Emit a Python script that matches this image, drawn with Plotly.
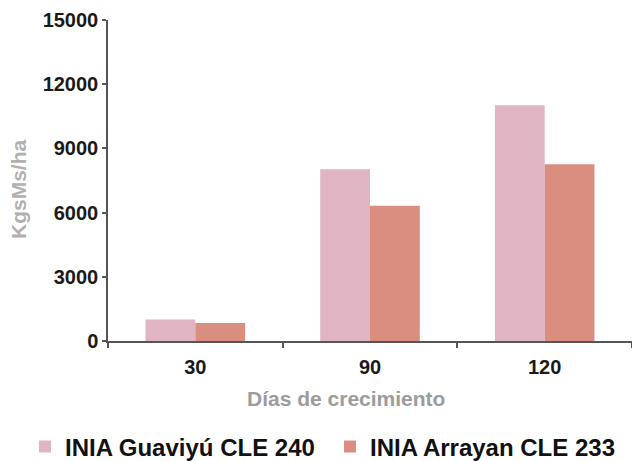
import plotly.graph_objects as go

# Days of regrowth (categories) and dry matter yield per variety
dias = ["30", "90", "120"]
guaviyu = [1000, 8020, 11020]
arrayan = [840, 6320, 8260]

series_names = ["INIA Guaviyú CLE 240", "INIA Arrayan CLE 233"]
y_ticks = [0, 3000, 6000, 9000, 12000, 15000]
y_tick_text = ["0", "3000", "6000", "9000", "12000", "15000"]

PINK = "#E1B4C4"
SALMON = "#D98E80"
FONT = "Liberation Sans"

fig = go.Figure()
fig.add_trace(go.Bar(x=dias, y=guaviyu, name=series_names[0],
                     marker=dict(color=PINK, line=dict(width=0))))
fig.add_trace(go.Bar(x=dias, y=arrayan, name=series_names[1],
                     marker=dict(color=SALMON, line=dict(width=0))))

fig.update_layout(
    width=632, height=461,
    margin=dict(l=108, r=0, t=20, b=120, autoexpand=False),
    paper_bgcolor="white", plot_bgcolor="white",
    barmode="group", bargap=0.43, bargroupgap=0,
    font=dict(family=FONT, color="#1a1a1a"),
    showlegend=True,
    legend=dict(orientation="h", x=-0.1584, xanchor="left",
                y=-0.33, yanchor="middle",
                font=dict(size=24, color="#111111", family=FONT, weight="bold"),
                itemwidth=30, entrywidth=260, entrywidthmode="pixels",
                traceorder="normal"),
    xaxis=dict(
        type="category",
        showline=True, linecolor="#555555", linewidth=1.5,
        ticks="outside", tickson="boundaries", ticklen=5,
        tickcolor="#555555", tickwidth=1.5, ticklabelstandoff=7,
        tickfont=dict(size=20, color="#1a1a1a", family=FONT, weight="bold"),
        showgrid=False, zeroline=False,
    ),
    yaxis=dict(
        range=[0, 15000], tickvals=y_ticks, ticktext=y_tick_text,
        showline=True, linecolor="#555555", linewidth=1.5,
        ticks="outside", ticklen=4, tickcolor="#555555", tickwidth=1.5,
        tickfont=dict(size=20, color="#1a1a1a", family=FONT, weight="bold"),
        showgrid=False, zeroline=False,
    ),
    annotations=[
        dict(text="Días de crecimiento", xref="paper", yref="paper",
             x=0.454, y=-0.1776, xanchor="center", yanchor="middle",
             showarrow=False,
             font=dict(size=21, color="#9c9c9c", family=FONT, weight="bold")),
        dict(text="KgsMs/ha", xref="paper", yref="paper",
             x=-0.1718, y=0.4735, xanchor="center", yanchor="middle",
             textangle=-90, showarrow=False,
             font=dict(size=21, color="#b0b0b0", family=FONT, weight="bold")),
    ],
)

fig.write_html("out.html")
